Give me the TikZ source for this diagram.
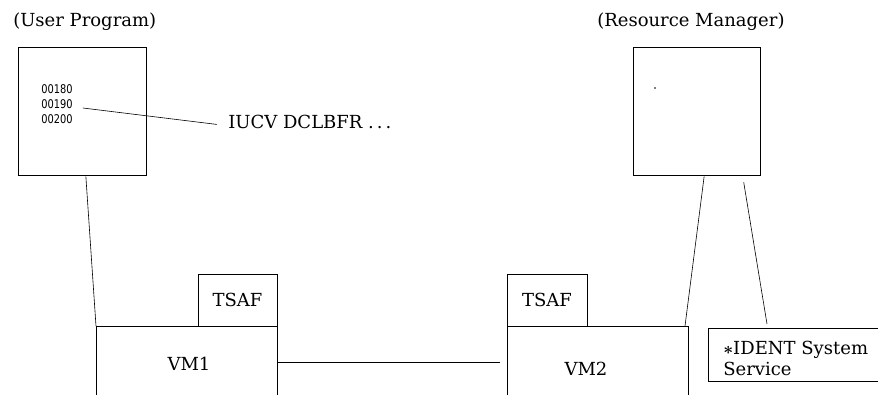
\documentclass[tikz,border=0pt]{standalone}
\usepackage{fontspec}
\setmainfont{DejaVu Serif}
\newfontfamily\digitfont{DejaVu Sans}
\usetikzlibrary{calc}
\begin{document}
\begin{tikzpicture}[x=1pt,y=-1pt,line width=0.6pt,
  txt/.style={inner sep=0pt,font=\fontsize{18}{21}\selectfont},
  boxnode/.style={draw,inner sep=0pt,font=\fontsize{18}{21}\selectfont},
  ghost/.style={inner sep=0pt,outer sep=0pt},
  digits/.style={inner sep=0pt,align=left,font=\digitfont\fontsize{12}{15}\selectfont}]
\useasboundingbox (0,0) rectangle (878,395);
% titles
\node[txt,anchor=base west] (t1) at (13,27) {(User Program)};
\node[txt,anchor=base west] (t2) at (597,27) {(Resource Manager)};
% program boxes
\node[boxnode,minimum width=128,minimum height=128] (user) at (82,111) {};
\node[boxnode,minimum width=127,minimum height=128] (rm) at (696.5,111) {};
\fill (655,88) circle (0.9);
\node[digits,anchor=west] (digits) at (41,104) {\scalebox{0.82}[1]{00180}\\\scalebox{0.82}[1]{00190}\\\scalebox{0.82}[1]{00200}};
\node[txt,anchor=base west] (iucv) at (228,129) {IUCV DCLBFR .\,.\,.};
\draw ($(digits.east)+(10,4)$) -- ($(iucv.west)+(-11,2)$);
% TSAF boxes
\node[boxnode,minimum width=79,minimum height=52] (tsaf1) at (237.5,300) {TSAF};
\node[boxnode,minimum width=80,minimum height=52] (tsaf2) at (547,300) {TSAF};
% VM boxes (open at the bottom)
\node[ghost,minimum width=181,minimum height=69] (vm1box) at (186.5,360.5) {};
\node[ghost,minimum width=181,minimum height=69] (vm2box) at (597.5,360.5) {};
\draw (vm1box.south west) |- (vm1box.north east) -- (vm1box.south east);
\draw (vm2box.south west) |- (vm2box.north east) -- (vm2box.south east);
\node[txt,anchor=base] (vm1) at (189,370) {VM1};
\node[txt,anchor=base] (vm2) at (586,375) {VM2};
% IDENT box
\node[ghost,minimum width=170,minimum height=53] (identbox) at (793,354.5) {};
\draw (identbox.north east) -| (identbox.south west) -- (identbox.south east);
\node[txt,anchor=base west] (ident) at (723,354) {{\boldmath$\ast$}IDENT System};
\node[txt,anchor=base west] (serv) at (723,375) {Service};
% connectors
\draw ($(user.south west)!0.53!(user.south east)+(0,1)$) -- (vm1box.north west);
\draw ($(rm.south west)!0.56!(rm.south east)+(0,1)$) -- ($(vm2box.north east)+(-3,0)$);
\draw ($(rm.south west)!0.87!(rm.south east)+(0,7)$) -- ($(identbox.north west)+(59,-4)$);
\draw ([yshift=-1.5pt]vm1box.east) -- ([yshift=-1.5pt,xshift=-7pt]vm2box.west);
\end{tikzpicture}
\end{document}
